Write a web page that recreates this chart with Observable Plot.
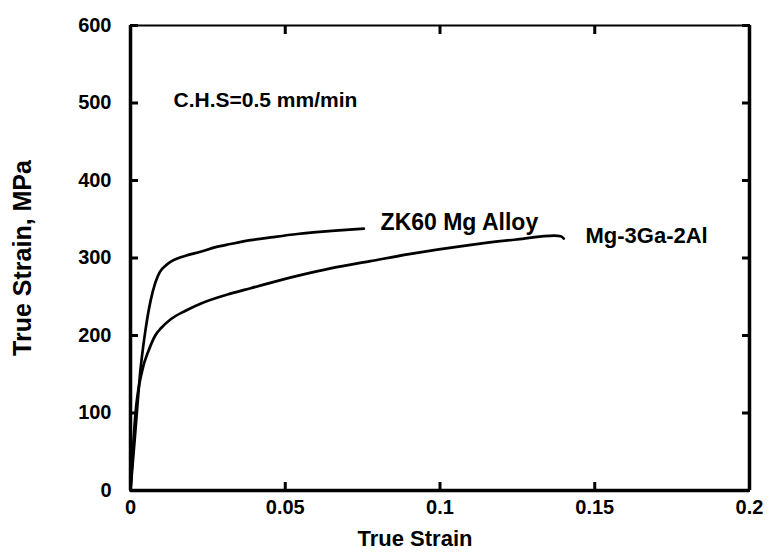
<!DOCTYPE html>
<html>
<head>
<meta charset="utf-8">
<script src="https://cdn.jsdelivr.net/npm/d3@7"></script>
<script src="https://cdn.jsdelivr.net/npm/@observablehq/plot@0.6"></script>
<style>
  html, body { margin: 0; padding: 0; background: #fff; }
  #chart svg { display: block; background: #fff; }
</style>
</head>
<body>
<div id="chart"></div>
<script>
// True strain (x) and true stress (y)
const zk60Strain = [0, 0.0016, 0.0032, 0.0048, 0.0065, 0.0080, 0.0095, 0.0113, 0.0129, 0.0178, 0.0226, 0.0275, 0.0323, 0.0388, 0.0460, 0.0539, 0.0650, 0.0754];
const zk60Stress = [0, 78, 155, 206, 245, 268, 282, 290, 295, 303, 308, 314, 318, 323, 327, 331, 335, 338];

const mgStrain = [0, 0.0016, 0.0038, 0.0059, 0.0080, 0.0100, 0.0130, 0.0178, 0.0226, 0.0323, 0.0388, 0.0539, 0.0650, 0.0775, 0.0900, 0.1100, 0.1250, 0.1370, 0.1390, 0.1400];
const mgStress = [0, 99, 155, 181, 200, 210, 221, 232, 241, 254, 261, 277, 287, 296, 305, 317, 324, 329, 328, 325];

const xTicks = [0, 0.05, 0.1, 0.15, 0.2];
const xTickLabels = ["0", "0.05", "0.1", "0.15", "0.2"];
const yTicks = [0, 100, 200, 300, 400, 500, 600];

const labelTexts = ["C.H.S=0.5 mm/min", "ZK60 Mg Alloy", "Mg-3Ga-2Al"];
const labelStrain = [0.0139, 0.0808, 0.147];
const labelStress = [503, 346, 329];
const labelSizes = [21, 23, 22];

const xTitle = "True Strain";
const yTitle = "True Strain, MPa";

const zk60 = zk60Strain.map((x, i) => ({x, y: zk60Stress[i]}));
const mg = mgStrain.map((x, i) => ({x, y: mgStress[i]}));
const labels = labelTexts.map((t, i) => ({t, x: labelStrain[i], y: labelStress[i], s: labelSizes[i]}));

const font = "'Liberation Sans', Arial, Helvetica, sans-serif";

const chart = Plot.plot({
  width: 769,
  height: 559,
  marginLeft: 130,
  marginRight: 20,
  marginTop: 25,
  marginBottom: 69,
  style: {fontFamily: font, background: "#fff", color: "#000"},
  x: {domain: [0, 0.2]},
  y: {domain: [0, 600]},
  marks: [
    // tick labels
    Plot.axisX({anchor: "bottom", ticks: xTicks, tickFormat: (d, i) => xTickLabels[i], tickSize: 0, tickPadding: 9, fontSize: 20, fontWeight: "bold", label: null}),
    Plot.axisY({anchor: "left", ticks: yTicks, tickSize: 0, tickPadding: 19, fontSize: 20, fontWeight: "bold", label: null}),
    // inward tick marks on all four sides
    Plot.axisX({anchor: "bottom", ticks: xTicks, tickSize: 8, text: null, dy: -8, strokeWidth: 3, label: null}),
    Plot.axisX({anchor: "top", ticks: xTicks, tickSize: 8, text: null, dy: 8, strokeWidth: 3, label: null}),
    Plot.axisY({anchor: "left", ticks: yTicks, tickSize: 8, text: null, dx: 8, strokeWidth: 3, label: null}),
    Plot.axisY({anchor: "right", ticks: yTicks, tickSize: 8, text: null, dx: -8, strokeWidth: 3, label: null}),
    // frame
    Plot.ruleY([0], {strokeWidth: 3.5}),
    Plot.ruleY([600], {strokeWidth: 2.2}),
    Plot.ruleX([0], {strokeWidth: 3.5}),
    Plot.ruleX([0.2], {strokeWidth: 3.5}),
    // curves
    Plot.line(zk60, {x: "x", y: "y", stroke: "#000", strokeWidth: 2.7, curve: "monotone-x"}),
    Plot.line(mg, {x: "x", y: "y", stroke: "#000", strokeWidth: 2.7, curve: "monotone-x"}),
    // annotations
    Plot.text(labels, {x: "x", y: "y", text: "t", textAnchor: "start", fontSize: (d) => d.s, fontWeight: "bold", fill: "#000"}),
    // axis titles
    Plot.text([xTitle], {frameAnchor: "bottom", textAnchor: "middle", dx: -25, dy: 55, fontSize: 22, fontWeight: "bold", fill: "#000"}),
    Plot.text([yTitle], {frameAnchor: "left", textAnchor: "middle", dx: -108, rotate: -90, fontSize: 25, fontWeight: "bold", fill: "#000"})
  ]
});

document.getElementById("chart").appendChild(chart);
</script>
</body>
</html>
